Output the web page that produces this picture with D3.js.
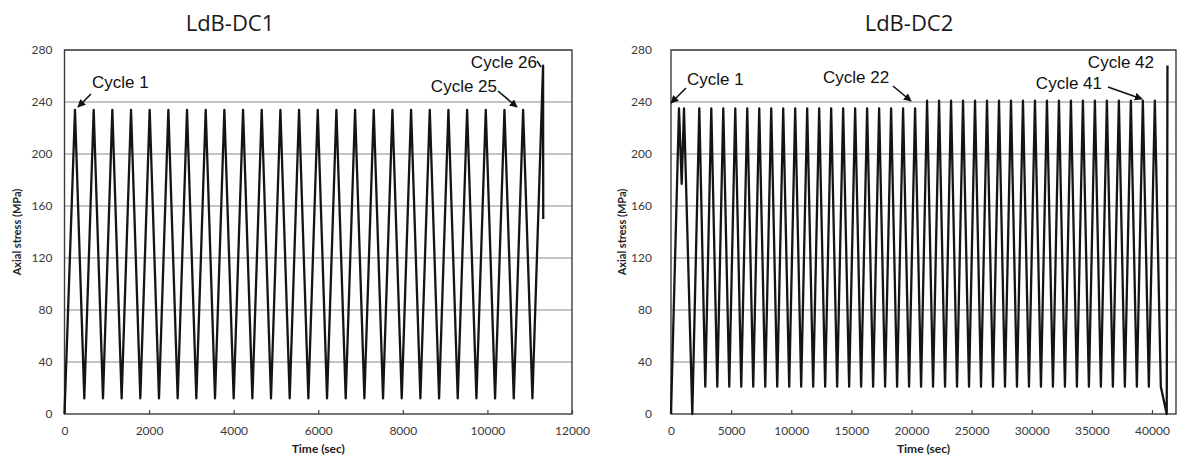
<!DOCTYPE html>
<html>
<head>
<meta charset="utf-8">
<script src="https://cdn.jsdelivr.net/npm/d3@7"></script>
<style>
  html, body { margin: 0; padding: 0; background: #ffffff; }
  svg { display: block; }
  .tick text { font-family: Lato, "Open Sans", sans-serif; font-size: 12px; fill: #3a3a3a; }
</style>
</head>
<body>
<svg id="fig" width="1178" height="465"></svg>
<script>
// Stress history of specimen LdB-DC1 (time in s, axial stress in MPa)
const dc1Time = [0, 248, 468, 690, 910, 1131, 1351, 1573, 1793, 2014, 2234, 2456, 2676,
  2897, 3117, 3339, 3559, 3780, 4000, 4222, 4442, 4663, 4883, 5105, 5325, 5546, 5766,
  5988, 6208, 6429, 6649, 6871, 7091, 7312, 7532, 7754, 7974, 8195, 8415, 8637, 8857,
  9078, 9298, 9520, 9740, 9961, 10181, 10403, 10623, 10844, 11064, 11316, 11320];
const dc1Stress = [0, 234, 12, 234, 12, 234, 12, 234, 12, 234, 12, 234, 12,
  234, 12, 234, 12, 234, 12, 234, 12, 234, 12, 234, 12, 234, 12,
  234, 12, 234, 12, 234, 12, 234, 12, 234, 12, 234, 12, 234, 12,
  234, 12, 234, 12, 234, 12, 234, 12, 234, 12, 268, 150];

// Stress history of specimen LdB-DC2
const dc2Time = [0, 665, 890, 1081, 1772,
  2354, 2852, 3351, 3849, 4348, 4846, 5345, 5843, 6342, 6840, 7339, 7837, 8336, 8834,
  9333, 9831, 10330, 10828, 11327, 11825, 12324, 12822, 13321, 13819, 14318, 14816,
  15315, 15813, 16312, 16810, 17309, 17807, 18306, 18804, 19303, 19801, 20300, 20798,
  21297, 21795, 22294, 22792, 23291, 23789, 24288, 24786, 25285, 25783, 26282, 26780,
  27279, 27777, 28276, 28774, 29273, 29771, 30270, 30768, 31267, 31765, 32264, 32762,
  33261, 33759, 34258, 34756, 35255, 35753, 36252, 36750, 37249, 37747, 38246, 38744,
  39243, 39741, 40240, 40738, 41230, 41290];
const dc2Stress = [0, 235, 177, 235, 0,
  235, 21, 235, 21, 235, 21, 235, 21, 235, 21, 235, 21, 235, 21,
  235, 21, 235, 21, 235, 21, 235, 21, 235, 21, 235, 21,
  235, 21, 235, 21, 235, 21, 235, 21, 235, 21, 235, 21,
  241, 21, 241, 21, 241, 21, 241, 21, 241, 21, 241, 21,
  241, 21, 241, 21, 241, 21, 241, 21, 241, 21, 241, 21,
  241, 21, 241, 21, 241, 21, 241, 21, 241, 21, 241, 21,
  241, 21, 241, 21, 0, 268];

const stressTicks = [0, 40, 80, 120, 160, 200, 240, 280];
const dc1TimeTicks = [0, 2000, 4000, 6000, 8000, 10000, 12000];
const dc2TimeTicks = [0, 5000, 10000, 15000, 20000, 25000, 30000, 35000, 40000];

const svg = d3.select("#fig");

function drawPanel(opt) {
  const g = svg.append("g");
  const x = d3.scaleLinear().domain(opt.xDomain).range([opt.left, opt.right]);
  const y = d3.scaleLinear().domain([0, 280]).range([414, 50]);

  // horizontal gridlines
  g.append("g").selectAll("line").data(stressTicks.slice(1)).join("line")
    .attr("x1", opt.left).attr("x2", opt.right)
    .attr("y1", d => y(d)).attr("y2", d => y(d))
    .attr("stroke", "#8a8a8a").attr("stroke-width", 1.1);

  // y axis labels
  const ya = g.append("g").attr("transform", `translate(${opt.left},0)`)
    .call(d3.axisLeft(y).tickValues(stressTicks).tickSize(0).tickPadding(opt.yPad));
  ya.select(".domain").remove();

  // x axis with short inward ticks
  const xa = g.append("g").attr("transform", `translate(0,${y(0)})`)
    .call(d3.axisBottom(x).tickValues(opt.xTicks).tickSize(-4).tickPadding(12)
      .tickFormat(d3.format("d")));
  xa.select(".domain").remove();
  xa.selectAll(".tick line").attr("stroke", "#444").attr("stroke-width", 1.2);

  // frame
  g.append("rect").attr("x", opt.left).attr("y", y(280))
    .attr("width", opt.right - opt.left).attr("height", y(0) - y(280))
    .attr("fill", "none").attr("stroke", "#3c3c3c").attr("stroke-width", 1.4);

  // stress history
  const pts = opt.time.map((t, i) => [t, opt.stress[i]]);
  g.append("path").datum(pts)
    .attr("d", d3.line().x(d => x(d[0])).y(d => y(d[1])))
    .attr("fill", "none").attr("stroke", "#141414")
    .attr("stroke-width", 2.3).attr("stroke-linejoin", "round");

  // titles
  g.append("text").attr("x", opt.titleX).attr("y", 31)
    .attr("text-anchor", "middle")
    .attr("font-family", "'Open Sans', Lato, sans-serif").attr("font-size", 22)
    .attr("fill", "#1a1a1a").text(opt.title);
  g.append("text").attr("x", (opt.left + opt.right) / 2).attr("y", 453)
    .attr("text-anchor", "middle")
    .attr("font-family", "Lato, sans-serif").attr("font-weight", "bold").attr("font-size", 12)
    .attr("fill", "#222").text("Time (sec)");
  g.append("text")
    .attr("transform", `translate(${opt.yTitleX},232) rotate(-90)`)
    .attr("text-anchor", "middle").attr("dy", "0.35em")
    .attr("font-family", "Lato, sans-serif").attr("font-weight", "bold").attr("font-size", 11)
    .attr("fill", "#222").text("Axial stress (MPa)");

  // cycle annotations
  opt.notes.forEach(n => {
    g.append("text").attr("x", n.tx).attr("y", n.ty)
      .attr("text-anchor", n.anchor)
      .attr("font-family", "'Liberation Sans', Arial, sans-serif").attr("font-size", 17)
      .attr("fill", "#111").text(n.label);
    if (n.arrow) {
      const [x1, y1, x2, y2] = n.arrow;
      g.append("line").attr("x1", x1).attr("y1", y1).attr("x2", x2).attr("y2", y2)
        .attr("stroke", "#111").attr("stroke-width", 1.6)
        .attr("marker-end", n.mark === false ? null : "url(#head)");
    }
  });
}

svg.append("defs").append("marker")
  .attr("id", "head").attr("viewBox", "0 0 10 10")
  .attr("refX", 9).attr("refY", 5)
  .attr("markerWidth", 5).attr("markerHeight", 5)
  .attr("orient", "auto")
  .append("path").attr("d", "M0,0 L10,5 L0,10 z").attr("fill", "#111");

drawPanel({
  title: "LdB-DC1", titleX: 230,
  time: dc1Time, stress: dc1Stress,
  xDomain: [0, 12000], xTicks: dc1TimeTicks,
  left: 64.5, right: 572, yPad: 12, yTitleX: 17,
  notes: [
    { label: "Cycle 1", tx: 92, ty: 88, anchor: "start", arrow: [91, 94, 78, 107] },
    { label: "Cycle 25", tx: 497, ty: 92, anchor: "end", arrow: [498, 91, 517, 107] },
    { label: "Cycle 26", tx: 537, ty: 68, anchor: "end", arrow: [537, 61, 541, 67], mark: false }
  ]
});

drawPanel({
  title: "LdB-DC2", titleX: 909,
  time: dc2Time, stress: dc2Stress,
  xDomain: [0, 42000], xTicks: dc2TimeTicks,
  left: 671, right: 1176, yPad: 19, yTitleX: 622,
  notes: [
    { label: "Cycle 1", tx: 687, ty: 85, anchor: "start", arrow: [686, 88, 671, 103] },
    { label: "Cycle 22", tx: 823, ty: 83, anchor: "start", arrow: [893, 86, 911, 101] },
    { label: "Cycle 41", tx: 1102, ty: 89, anchor: "end", arrow: [1108, 87, 1142, 99] },
    { label: "Cycle 42", tx: 1154, ty: 68, anchor: "end" }
  ]
});
</script>
</body>
</html>
